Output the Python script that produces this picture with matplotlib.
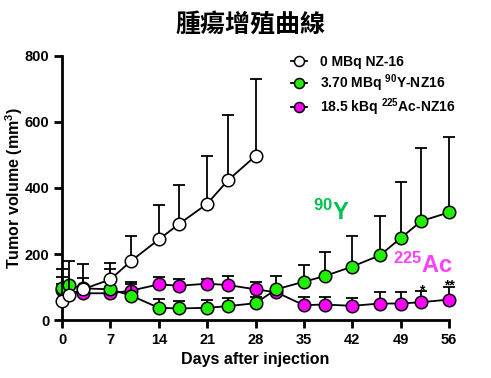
import numpy as np
import matplotlib.pyplot as plt

plt.rcParams['font.family'] = ['Liberation Sans', 'DejaVu Sans']
plt.rcParams['font.weight'] = 'bold'
plt.rcParams['mathtext.fontset'] = 'custom'
plt.rcParams['mathtext.bf'] = 'Liberation Sans:bold'
plt.rcParams['mathtext.rm'] = 'Liberation Sans:bold'
plt.rcParams['mathtext.default'] = 'bf'

# data
days_ctrl = [0, 1, 3, 7, 10, 14, 17, 21, 24, 28]
ctrl = [58, 76, 93, 123, 179, 244, 292, 352, 423, 497]
ctrl_err = [97, 104, 77, 49, 76, 105, 116, 144, 197, 233]

days_y90 = [0, 1, 3, 7, 10, 14, 17, 21, 24, 28, 31, 35, 38, 42, 46, 49, 52, 56]
y90 = [96, 106, 96, 93, 74, 37, 35, 37, 42, 51, 93, 116, 133, 162, 196, 248, 300, 326]
y90_err = [33, 4, 30, 61, 35, 26, 23, 23, 25, 18, 41, 51, 72, 93, 120, 170, 222, 229]

days_ac = [0, 3, 7, 10, 14, 17, 21, 24, 28, 31, 35, 38, 42, 46, 49, 52, 56]
ac = [90, 81, 81, 89, 108, 104, 110, 106, 93, 84, 45, 47, 43, 50, 50, 54, 62]
ac_err = [20, 19, 19, 27, 23, 19, 13, 27, 21, 10, 24, 22, 23, 34, 34, 35, 38]

labels = ['0 MBq NZ-16', '3.70 MBq $^{90}$Y-NZ16', '18.5 kBq $^{225}$Ac-NZ16']
x_ticks = [0, 7, 14, 21, 28, 35, 42, 49, 56]
y_ticks = [0, 200, 400, 600, 800]

fig = plt.figure(figsize=(4.91, 3.78), dpi=100)
ax = fig.add_axes([0.1263, 0.1534, 0.7882, 0.6985])

series = [
    (days_ac, ac, ac_err, '#ff00ff', labels[2], 3),
    (days_y90, y90, y90_err, '#22ee00', labels[1], 4),
    (days_ctrl, ctrl, ctrl_err, 'white', labels[0], 5),
]
handles = {}
for d, v, e, col, lab, z in series:
    ax.errorbar(d, v, yerr=[np.zeros(len(e)), e], fmt='none', ecolor='black',
                elinewidth=1.3, capsize=4.5, capthick=1.3, zorder=z, clip_on=False)
    h, = ax.plot(d, v, '-o', color='black', lw=1.3, marker='o', markersize=9,
                 markerfacecolor=col, markeredgecolor='black', markeredgewidth=1.1,
                 zorder=z + 0.5, clip_on=False, label=lab)
    handles[lab] = h

ax.set_xlim(0, 56)
ax.set_ylim(0, 800)
ax.set_xticks(x_ticks)
ax.set_yticks(y_ticks)
ax.tick_params(width=2, length=6, labelsize=10.5, pad=3)
for s in ['top', 'right']:
    ax.spines[s].set_visible(False)
for s in ['left', 'bottom']:
    ax.spines[s].set_linewidth(2)

ax.set_xlabel('Days after injection', fontsize=11.5, fontweight='bold', labelpad=4)
ax.set_ylabel('Tumor volume (mm$^3$)', fontsize=11.5, fontweight='bold', labelpad=0)

fig.text(0.51, 0.934, '腫瘍增殖曲線', ha='center', va='center', fontsize=18,
         fontweight='bold', family=['Noto Sans CJK TC', 'DejaVu Sans'])

leg = ax.legend([handles[l] for l in labels], labels, loc='upper left',
                bbox_to_anchor=(0.56, 1.05), frameon=False, fontsize=10,
                handlelength=1.1, handletextpad=1.0, labelspacing=0.2,
                markerscale=0.8)

ax.text(36.3, 303, '$^{90}$Y', color='#00c050', fontsize=17, fontweight='bold',
        ha='left', va='baseline')
ax.text(47.9, 142, '$^{225}$Ac', color='#ff40ff', fontsize=17, fontweight='bold',
        ha='left', va='baseline')
ax.text(52, 77, '*', fontsize=10, ha='center', va='baseline')
ax.text(56, 92, '**', fontsize=10, ha='center', va='baseline')

fig.savefig('out.png', dpi=100)
